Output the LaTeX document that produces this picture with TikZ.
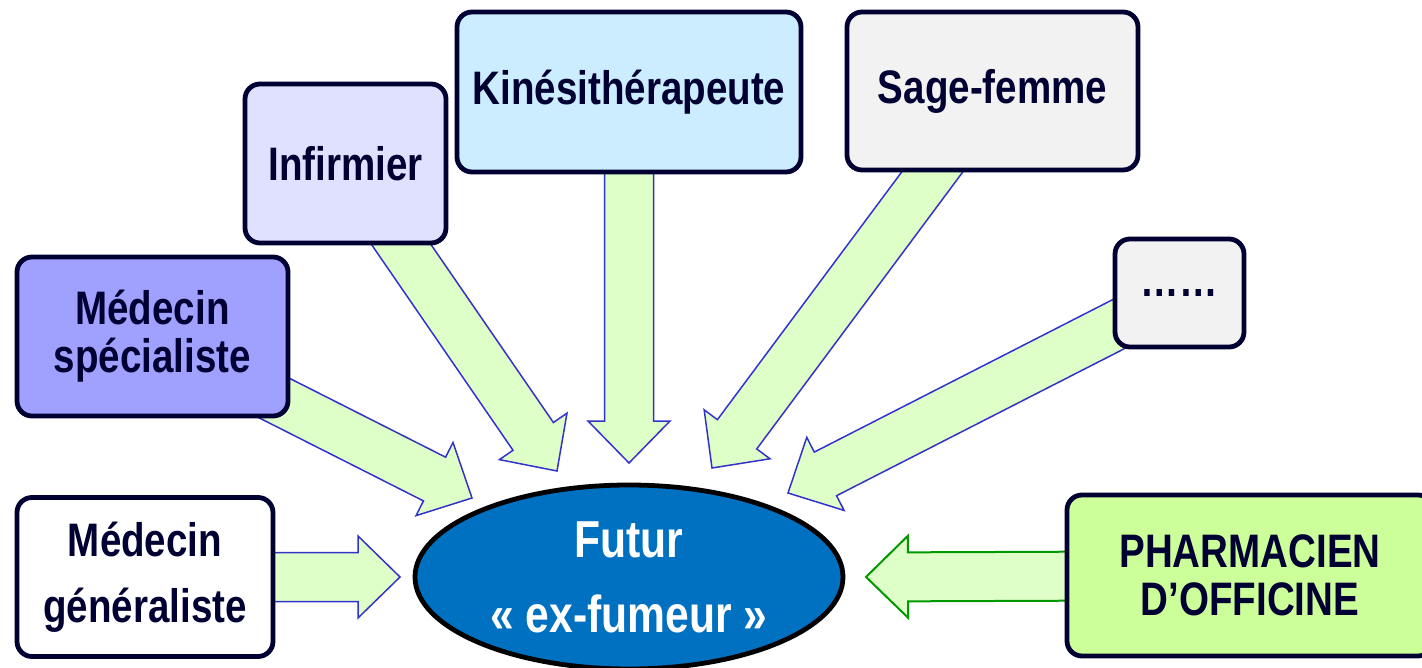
\documentclass[tikz,border=0pt]{standalone}
\usepackage{fontspec}
\newfontfamily\narrowsans{Liberation Sans}[FakeStretch=0.82]
\usepackage{xcolor}
\usetikzlibrary{calc,shapes.geometric,backgrounds}
\definecolor{proNavy}{HTML}{000033}
\definecolor{proWhite}{HTML}{FFFFFF}
\definecolor{proSpec}{HTML}{A0A0FF}
\definecolor{proInf}{HTML}{E0E0FF}
\definecolor{proKine}{HTML}{CCECFF}
\definecolor{proGray}{HTML}{F2F2F2}
\definecolor{proPharm}{HTML}{CCFF99}
\definecolor{patBlue}{HTML}{0070C0}
\definecolor{flowFill}{HTML}{DFFFC8}
\definecolor{flowBlue}{HTML}{3333CC}
\definecolor{flowGreen}{HTML}{009900}
\tikzset{
  actor/.style={
    rectangle,
    rounded corners=15pt,
    draw=proNavy,
    line width=4.8pt,
    align=center,
    text=proNavy,
    inner sep=0pt,
    font=\narrowsans\bfseries\fontsize{47}{66}\selectfont
  },
  tight/.style={font=\narrowsans\bfseries\fontsize{47}{48}\selectfont},
  patient/.style={
    ellipse,
    draw=black,
    line width=4.8pt,
    fill=patBlue,
    text=white,
    align=center,
    inner sep=0pt,
    font=\narrowsans\bfseries\fontsize{52}{75}\selectfont
  },
  flow/.style={draw=flowBlue, line width=1.5pt, fill=flowFill, line join=miter},
  flowpharm/.style={draw=flowGreen, line width=2pt, fill=flowFill, line join=miter}
}
% block arrow: #2 start node, #3 tip coordinate
\newcommand\blockarrow[3][flow]{%
  \path (#3) coordinate (batip) ($(#3)!42pt!(#2)$) coordinate (bahb);
  \draw[#1] ($(#2)!24.5pt!90:(#3)$) -- ($(bahb)!24.5pt!90:(batip)$)
    -- ($(bahb)!41pt!90:(batip)$) -- (batip)
    -- ($(bahb)!41pt!-90:(batip)$) -- ($(bahb)!24.5pt!-90:(batip)$)
    -- ($(#2)!24.5pt!-90:(#3)$) -- cycle;
}
\begin{document}
\begin{tikzpicture}[x=1pt,y=-1pt]
  \useasboundingbox (0,0) rectangle (1422,668);
  \clip (0,0) rectangle (1422,668);
  % the smoker
  \node[patient, minimum width=428pt, minimum height=184pt] (smoker) at (629,577) {Futur\\« ex-fumeur »};
  % health professionals
  \node[actor, fill=proWhite, minimum width=256pt, minimum height=159pt] (gen) at (145,577) {Médecin\\généraliste};
  \node[actor, tight, fill=proSpec, minimum width=271pt, minimum height=159pt] (spec) at (152.5,336.5) {Médecin\\spécialiste};
  \node[actor, fill=proInf, minimum width=201pt, minimum height=159pt] (inf) at (345.5,163.5) {Infirmier};
  \node[actor, fill=proKine, minimum width=344pt, minimum height=160pt] (kine) at (629,92) {Kinésithérapeute};
  \node[actor, fill=proGray, minimum width=291pt, minimum height=158pt] (sage) at (992.5,91) {Sage-femme};
  \node[actor, fill=proGray, minimum width=129pt, minimum height=108pt] (others) at (1179.5,293) {……};
  \node[actor, tight, fill=proPharm, minimum width=366pt, minimum height=161pt] (pharm) at (1250,575.5) {PHARMACIEN\\D’OFFICINE};
  % arrow tips
  \coordinate (tipGen) at (400,577);
  \coordinate (tipSpec) at (472,498);
  \coordinate (tipInf) at (557,471);
  \coordinate (tipKine) at (629,463);
  \coordinate (tipSage) at (712,468);
  \coordinate (tipOthers) at (788,493);
  \coordinate (tipPharm) at (866,577);
  \begin{pgfonlayer}{background}
    \blockarrow{gen.center}{tipGen}
    \blockarrow{spec.center}{tipSpec}
    \blockarrow{inf.center}{tipInf}
    \blockarrow{kine.center}{tipKine}
    \blockarrow{sage.center}{tipSage}
    \blockarrow{others.center}{tipOthers}
    \blockarrow[flowpharm]{pharm.center}{tipPharm}
  \end{pgfonlayer}
\end{tikzpicture}
\end{document}
